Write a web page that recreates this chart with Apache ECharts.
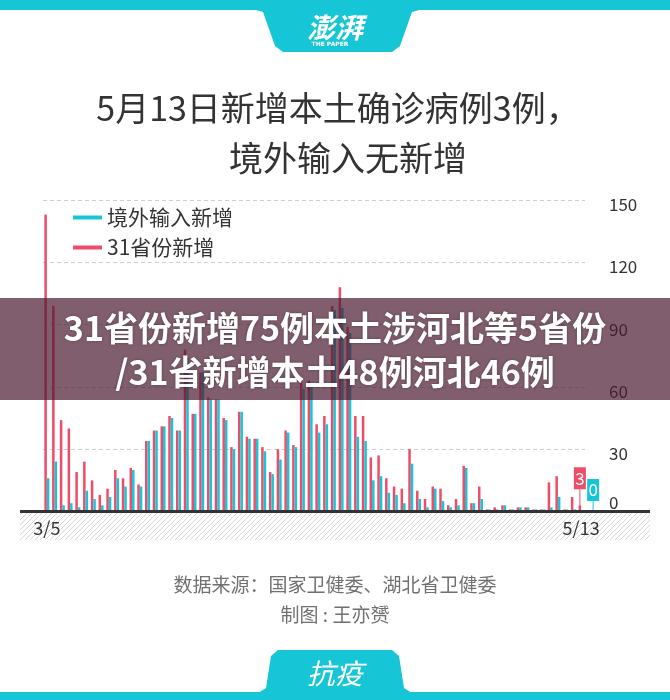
<!DOCTYPE html>
<html>
<head>
<meta charset="utf-8">
<script src="https://cdn.jsdelivr.net/npm/echarts@6/dist/echarts.min.js"></script>
<style>
  html, body { margin: 0; padding: 0; background: #fff; }
  #chart { width: 670px; height: 700px; }
</style>
</head>
<body>
<div id="chart"></div>
<script>
const dates = [
  '3/5', '3/6', '3/7', '3/8', '3/9', '3/10', '3/11', '3/12', '3/13', '3/14',
  '3/15', '3/16', '3/17', '3/18', '3/19', '3/20', '3/21', '3/22', '3/23', '3/24',
  '3/25', '3/26', '3/27', '3/28', '3/29', '3/30', '3/31',
  '4/1', '4/2', '4/3', '4/4', '4/5', '4/6', '4/7', '4/8', '4/9', '4/10',
  '4/11', '4/12', '4/13', '4/14', '4/15', '4/16', '4/17', '4/18', '4/19', '4/20',
  '4/21', '4/22', '4/23', '4/24', '4/25', '4/26', '4/27', '4/28', '4/29', '4/30',
  '5/1', '5/2', '5/3', '5/4', '5/5', '5/6', '5/7', '5/8', '5/9', '5/10',
  '5/11', '5/12', '5/13'
];

// 31省份新增
const provinceNew = [
  143, 99, 44, 40, 19, 24, 15, 8, 11, 20,
  16, 21, 13, 34, 39, 41, 46, 39, 78, 47,
  67, 55, 54, 45, 31, 48, 36,
  35, 31, 19, 30, 39, 32, 62, 63, 42, 46,
  99, 108, 89, 46, 46, 26, 27, 16, 12, 11,
  30, 10, 6, 12, 11, 3, 6, 22, 4, 12,
  1, 2, 3, 1, 2, 2, 1, 1, 14, 17,
  1, 7, 3
];

// 境外输入新增
const importedNew = [
  16, 24, 3, 4, 2, 10, 6, 3, 7, 16,
  12, 20, 12, 34, 39, 41, 45, 39, 74, 47,
  67, 54, 54, 44, 30, 48, 35,
  35, 29, 18, 25, 38, 31, 59, 61, 38, 42,
  97, 98, 86, 36, 34, 15, 17, 9, 8, 4,
  23, 6, 2, 11, 5, 2, 3, 21, 4, 6,
  1, 1, 3, 1, 2, 2, 1, 1, 2, 7,
  1, 1, 0
];

const yTicks = [0, 30, 60, 90, 120, 150];

const RED = '#ef4c69';
const CYAN = '#17c6d6';
const FONT = '"Noto Sans CJK SC", "Noto Sans", sans-serif';

// hatch pattern under the baseline
const hatch = document.createElement('canvas');
hatch.width = 5;
hatch.height = 5;
const hctx = hatch.getContext('2d');
hctx.strokeStyle = '#d6d6d6';
hctx.lineWidth = 1;
hctx.beginPath();
hctx.moveTo(-1, 6); hctx.lineTo(6, -1);
hctx.moveTo(-1, 1); hctx.lineTo(1, -1);
hctx.moveTo(4, 6); hctx.lineTo(6, 4);
hctx.stroke();

const last = dates.length - 1;

// flags on the last day: [index, value, kind]
const flags = [
  [last, provinceNew[last], 0],
  [last, importedNew[last], 1]
];

function renderFlag(params, api) {
  const kind = api.value(2);
  const v = api.value(1);
  const p = api.coord([api.value(0), v]);
  const color = kind === 0 ? RED : CYAN;
  const px = kind === 0 ? p[0] - 1.25 : p[0] + 12;
  const boxBottom = kind === 0 ? p[1] - 16 : p[1] - 10.5;
  return {
    type: 'group',
    children: [
      {
        type: 'line',
        shape: { x1: px, y1: boxBottom, x2: px, y2: p[1] },
        style: { stroke: color, lineWidth: 1 }
      },
      {
        type: 'rect',
        shape: { x: px - 6, y: boxBottom - 22, width: 12, height: 22 },
        style: { fill: color }
      },
      {
        type: 'text',
        style: {
          text: String(v), x: px, y: boxBottom - 11,
          align: 'center', verticalAlign: 'middle',
          fill: '#fff', font: '17px ' + FONT
        }
      }
    ]
  };
}

const chart = echarts.init(document.getElementById('chart'));

const option = {
  backgroundColor: '#fff',
  animation: false,
  textStyle: { fontFamily: FONT },
  legend: {
    data: ['境外输入新增', '31省份新增'],
    orient: 'vertical',
    left: 68,
    top: 202,
    icon: 'rect',
    itemWidth: 29,
    itemHeight: 4,
    itemGap: 9,
    textStyle: { fontSize: 21, color: '#333', fontFamily: FONT }
  },
  grid: {
    left: 43,
    right: 85,
    top: 200,
    bottom: 188.5
  },
  xAxis: {
    type: 'category',
    data: dates,
    axisLine: { show: false },
    axisTick: { show: false },
    axisLabel: {
      interval: (i) => i === 0 || i === last,
      margin: 8,
      fontSize: 18,
      color: '#333',
      fontFamily: FONT
    }
  },
  yAxis: {
    type: 'value',
    position: 'right',
    min: yTicks[0],
    max: yTicks[yTicks.length - 1],
    interval: 30,
    axisLine: { show: false },
    axisTick: { show: false },
    splitLine: { lineStyle: { type: [4, 3], color: '#cfcfcf' } },
    axisLabel: {
      margin: 24,
      align: 'left',
      fontSize: 17,
      color: '#333',
      fontFamily: FONT,
      formatter: (v) => (v === 0 ? '{z|0}' : '{n|' + v + '}'),
      rich: {
        z: { fontSize: 17, color: '#333', padding: [0, 0, 18, 0] },
        n: { fontSize: 17, color: '#333', padding: [9, 0, 0, 0] }
      }
    }
  },
  series: [
    {
      name: '31省份新增',
      type: 'bar',
      data: provinceNew,
      barWidth: 2.5,
      barGap: '0%',
      itemStyle: { color: RED }
    },
    {
      name: '境外输入新增',
      type: 'bar',
      data: importedNew,
      barWidth: 2.5,
      barGap: '0%',
      itemStyle: { color: CYAN }
    },
    {
      type: 'custom',
      data: flags,
      renderItem: renderFlag,
      z: 5,
      silent: true
    }
  ],
  graphic: [
    // header
    { type: 'rect', shape: { x: 0, y: 0, width: 670, height: 10 }, style: { fill: CYAN }, z: 1 },
    {
      type: 'polygon',
      shape: { points: [[252, 9], [263, 12], [275, 46], [283, 52], [392, 52], [400, 46], [412, 12], [423, 9]] },
      style: { fill: CYAN }, z: 1
    },
    {
      type: 'text', z: 2,
      style: { text: '澎湃', x: 335, y: 27, align: 'center', verticalAlign: 'middle', fill: '#fff', font: 'bold italic 28px ' + FONT }
    },
    {
      type: 'text', z: 2,
      style: { text: 'THE PAPER', x: 330, y: 44, align: 'center', verticalAlign: 'middle', fill: '#fff', font: 'bold 6px "DejaVu Sans"' }
    },
    // title
    {
      type: 'text', z: 2,
      style: { text: '5月13日新增本土确诊病例3例，', x: 338, y: 108, align: 'center', verticalAlign: 'middle', fill: '#333', font: '34px ' + FONT }
    },
    {
      type: 'text', z: 2,
      style: { text: '境外输入无新增', x: 348, y: 158, align: 'center', verticalAlign: 'middle', fill: '#333', font: '34px ' + FONT }
    },
    // hatched strip and baseline
    { type: 'rect', shape: { x: 20, y: 513, width: 630, height: 27 }, style: { fill: { image: hatch, repeat: 'repeat' } }, z: 0 },
    { type: 'line', shape: { x1: 20, y1: 511.5, x2: 650, y2: 511.5 }, style: { stroke: '#333', lineWidth: 3 }, z: 10 },
    // source
    {
      type: 'text', z: 2,
      style: { text: '数据来源：国家卫健委、湖北省卫健委', x: 335, y: 585, align: 'center', verticalAlign: 'middle', fill: '#707070', font: '19px ' + FONT }
    },
    {
      type: 'text', z: 2,
      style: { text: '制图 : 王亦赟', x: 335, y: 615, align: 'center', verticalAlign: 'middle', fill: '#707070', font: '19px ' + FONT }
    },
    // footer
    {
      type: 'polygon',
      shape: { points: [[258, 693], [266, 688], [271, 656], [278, 650], [392, 650], [399, 656], [404, 688], [412, 693]] },
      style: { fill: CYAN }, z: 1
    },
    { type: 'rect', shape: { x: 0, y: 692, width: 670, height: 8 }, style: { fill: CYAN }, z: 1 },
    {
      type: 'text', z: 2,
      style: { text: '抗疫', x: 335, y: 673, align: 'center', verticalAlign: 'middle', fill: '#fff', font: 'italic 28px ' + FONT }
    },
    // overlay banner
    { type: 'rect', shape: { x: 0, y: 298, width: 670, height: 102 }, style: { fill: 'rgba(74,25,48,0.7)' }, z: 100 },
    {
      type: 'text', z: 101,
      style: {
        text: '31省份新增75例本土涉河北等5省份', x: 335, y: 328, align: 'center', verticalAlign: 'middle',
        fill: '#fff', font: 'bold 34px ' + FONT, textShadowColor: 'rgba(0,0,0,0.35)', textShadowBlur: 3
      }
    },
    {
      type: 'text', z: 101,
      style: {
        text: '/31省新增本土48例河北46例', x: 335, y: 372, align: 'center', verticalAlign: 'middle',
        fill: '#fff', font: 'bold 34px ' + FONT, textShadowColor: 'rgba(0,0,0,0.35)', textShadowBlur: 3
      }
    }
  ]
};

chart.setOption(option);
</script>
</body>
</html>
